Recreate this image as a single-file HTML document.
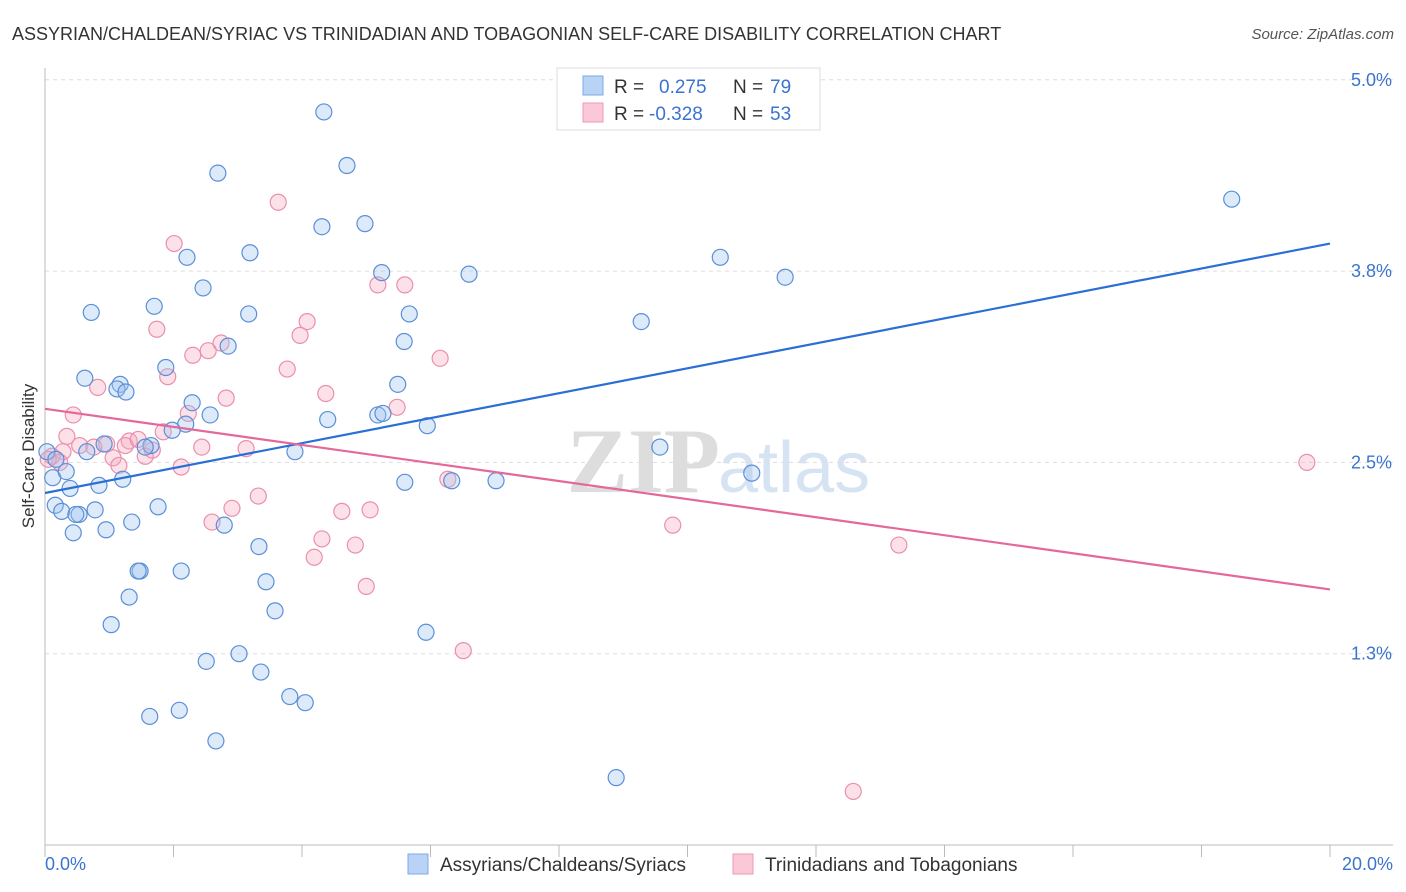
<!DOCTYPE html>
<html><head><meta charset="utf-8"><style>
body{margin:0;background:#fff;font-family:"Liberation Sans",sans-serif;}
svg{display:block}
</style></head><body>
<svg id="chart" width="1406" height="892" xmlns="http://www.w3.org/2000/svg">
<text x="12" y="40" font-size="18" fill="#333">ASSYRIAN/CHALDEAN/SYRIAC VS TRINIDADIAN AND TOBAGONIAN SELF-CARE DISABILITY CORRELATION CHART</text>
<text x="1394" y="39" font-size="15" fill="#555" font-style="italic" text-anchor="end">Source: ZipAtlas.com</text>
<text x="720" y="492" font-size="92" fill="#ddd" text-anchor="end" font-weight="bold" font-family="Liberation Serif,serif">ZIP</text>
<text x="718" y="492" font-size="72" fill="#d6e3f3">atlas</text>
<g id="grid"></g>
<g id="axes"></g>
<g id="marks"></g>
<text transform="translate(34,456) rotate(-90)" font-size="17" fill="#333" text-anchor="middle">Self-Care Disability</text>
<g>
<rect x="557" y="68" width="263" height="62" fill="#fff" stroke="#ddd"/>
<rect x="583" y="76" width="20" height="19" fill="#b8d3f5" stroke="#7ea9e6"/>
<rect x="583" y="103" width="20" height="19" fill="#fac8d6" stroke="#ee9ab5"/>
<text x="614" y="93" font-size="19" fill="#333">R =</text>
<text x="659" y="93" font-size="19" fill="#3b74cf">0.275</text>
<text x="733" y="93" font-size="19" fill="#333">N =</text>
<text x="770" y="93" font-size="19" fill="#3b74cf">79</text>
<text x="614" y="120" font-size="19" fill="#333">R =</text>
<text x="649" y="120" font-size="19" fill="#3b74cf">-0.328</text>
<text x="733" y="120" font-size="19" fill="#333">N =</text>
<text x="770" y="120" font-size="19" fill="#3b74cf">53</text>
</g>
<g>
<rect x="408" y="854" width="20" height="20" fill="#b8d3f5" stroke="#7ea9e6"/>
<text x="440" y="871" font-size="19" fill="#333">Assyrians/Chaldeans/Syriacs</text>
<rect x="733" y="854" width="20" height="20" fill="#fac8d6" stroke="#ee9ab5"/>
<text x="765" y="871" font-size="19" fill="#333">Trinidadians and Tobagonians</text>
</g>
</svg>
<script>
const yTicks=[1.25,2.5,3.75,5.0];
const yTickLabels=["1.3%","2.5%","3.8%","5.0%"];
const xTickLabels=["0.0%","20.0%"];
const blueX=[4.34,4.70,2.69,4.31,4.98,3.19,2.21,6.60,5.24,10.51,11.52,18.47,2.46,0.72,1.70,3.17,5.67,9.28,2.85,5.59,1.88,0.62,1.17,1.12,1.26,5.49,2.29,2.57,5.18,5.26,4.40,2.19,1.98,5.95,1.65,1.56,0.92,0.65,3.89,9.57,0.03,0.17,0.12,0.33,1.21,0.84,0.39,5.60,6.33,7.02,11.00,0.16,0.26,0.53,0.48,0.78,1.76,1.35,0.95,0.44,2.79,3.33,1.48,1.45,2.12,3.44,1.31,3.58,1.03,5.93,3.02,2.51,3.36,3.81,4.05,2.09,1.63,2.66,8.89];
const blueY=[4.79,4.44,4.39,4.04,4.06,3.87,3.84,3.73,3.74,3.84,3.71,4.22,3.64,3.48,3.52,3.47,3.47,3.42,3.26,3.29,3.12,3.05,3.01,2.98,2.96,3.01,2.89,2.81,2.81,2.82,2.78,2.75,2.71,2.74,2.61,2.60,2.62,2.57,2.57,2.60,2.57,2.52,2.40,2.44,2.39,2.35,2.33,2.37,2.38,2.38,2.43,2.22,2.18,2.16,2.16,2.19,2.21,2.11,2.06,2.04,2.09,1.95,1.79,1.79,1.79,1.72,1.62,1.53,1.44,1.39,1.25,1.20,1.13,0.97,0.93,0.88,0.84,0.68,0.44];
const pinkX=[3.63,2.01,5.18,5.60,4.08,3.97,1.74,2.54,2.74,2.30,6.15,3.77,1.91,0.82,4.37,2.82,5.48,2.23,0.44,0.34,1.84,1.31,0.54,0.76,0.96,1.25,1.45,1.67,2.44,3.13,0.28,0.11,0.23,1.56,1.06,1.15,2.12,19.64,6.27,3.32,2.91,2.60,5.06,4.62,9.77,4.31,4.83,13.29,4.19,5.00,6.51,12.58,0.05];
const pinkY=[4.20,3.93,3.66,3.66,3.42,3.33,3.37,3.23,3.28,3.20,3.18,3.11,3.06,2.99,2.95,2.92,2.86,2.82,2.81,2.67,2.70,2.64,2.61,2.60,2.62,2.61,2.65,2.58,2.60,2.59,2.57,2.54,2.50,2.54,2.53,2.48,2.47,2.50,2.39,2.28,2.20,2.11,2.19,2.18,2.09,2.00,1.96,1.96,1.88,1.69,1.27,0.35,2.52];
const blueTrend=[2.30,3.93];
const pinkTrend=[2.85,1.67];
const NS="http://www.w3.org/2000/svg";
const X0=45,X1=1330,Y0=845,PPU=153.04;
const sx=v=>X0+(v/20)*(X1-X0);
const sy=v=>Y0-v*PPU;
function mk(tag,attrs,parent){const e=document.createElementNS(NS,tag);for(const k in attrs)e.setAttribute(k,attrs[k]);document.getElementById(parent).appendChild(e);return e;}
yTicks.forEach((t,i)=>{
 const l=mk('line',{x1:X0,x2:1393,y1:sy(t),y2:sy(t),stroke:'#ddd','stroke-dasharray':'4,4'},'grid');
 
 
 const tx=mk('text',{x:1392,y:sy(t)+6,'font-size':18,fill:'#3b74cf','text-anchor':'end'},'grid');
 tx.textContent=yTickLabels[i];
 
 
});
let ax=mk('line',{x1:X0,x2:1393,y1:Y0,y2:Y0,stroke:'#bbb'},'axes');


let ay=mk('line',{x1:X0,x2:X0,y1:68,y2:Y0,stroke:'#bbb'},'axes');


for(let i=0;i<=10;i++){
 const t=mk('line',{x1:sx(i*2),x2:sx(i*2),y1:Y0,y2:Y0+12,stroke:'#bbb'},'axes');
 
 
}
[[0,'start',45],[20,'end',1393]].forEach((d,i)=>{
 const tx=mk('text',{x:d[2],y:870,'font-size':18,fill:'#3b74cf','text-anchor':d[1]},'axes');
 tx.textContent=xTickLabels[i];
 
 
});
function dots(xs,ys,fill,stroke,name){
 xs.forEach((x,i)=>{
  const c=mk('circle',{cx:sx(x),cy:sy(ys[i]),r:8,fill:fill,'fill-opacity':0.35,stroke:stroke,'stroke-width':1.2},'marks');
  
  
 });
}
dots(pinkX,pinkY,'#f7a8c1','#ea8fae','pink-point');
dots(blueX,blueY,'#9fc3ef','#5b8fd9','blue-point');
let bl=mk('line',{x1:sx(0),y1:sy(blueTrend[0]),x2:sx(20),y2:sy(blueTrend[1]),stroke:'#2a6fd6','stroke-width':2.2},'marks');


let pl=mk('line',{x1:sx(0),y1:sy(pinkTrend[0]),x2:sx(20),y2:sy(pinkTrend[1]),stroke:'#e5689a','stroke-width':2.2},'marks');


</script>
</body></html>
